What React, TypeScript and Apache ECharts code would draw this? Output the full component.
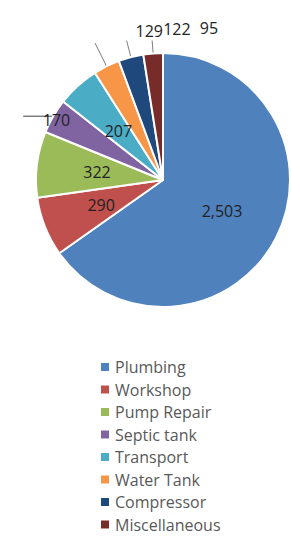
import React, { useEffect, useRef } from "react";
import * as echarts from "echarts";

const categories = [
  "Plumbing",
  "Workshop",
  "Pump Repair",
  "Septic tank",
  "Transport",
  "Water Tank",
  "Compressor",
  "Miscellaneous",
];
const values = [2503, 290, 322, 170, 207, 129, 122, 95];
const colors = [
  "#4F81BD",
  "#C0504D",
  "#9BBB59",
  "#8064A2",
  "#4BACC6",
  "#F79646",
  "#1F497D",
  "#772C2A",
];

// label placement style (not data)
const outsideLabels: Record<string, { length: number; length2: number; shift: [number, number]; line: string }> = {
  "Septic tank": { length: 0, length2: 30, shift: [52, 4], line: "#404040" },
  "Water Tank": { length: 26, length2: 0, shift: [73, -12], line: "#7f7f7f" },
  Compressor: { length: 17, length2: 0, shift: [69, -12], line: "#7f7f7f" },
  Miscellaneous: { length: 13, length2: 0, shift: [71, -12], line: "#7f7f7f" },
};

const FONT = "'Open Sans', sans-serif";

export default function App() {
  const ref = useRef<HTMLDivElement>(null);
  useEffect(() => {
    const chart = echarts.init(ref.current!, undefined, { renderer: "svg" });
    const data = categories.map((name, i) => {
      const o = outsideLabels[name];
      const item: any = {
        name,
        value: values[i],
        itemStyle: { color: colors[i] },
      };
      if (o) {
        item.label = { position: "outside" };
        item.labelLine = {
          show: true,
          length: o.length,
          length2: o.length2,
          lineStyle: { color: o.line, width: 1 },
        };
      } else {
        item.label = { position: "inside" };
        item.labelLine = { show: false };
      }
      return item;
    });
    chart.setOption({
      animation: false,
      legend: {
        orient: "vertical",
        left: 99,
        top: 359,
        height: 220,
        padding: 0,
        icon: "rect",
        itemWidth: 10,
        itemHeight: 10,
        itemGap: 6.5,
        data: categories,
        textStyle: {
          color: "#595959",
          fontFamily: FONT,
          fontSize: 16,
          lineHeight: 16,
        },
        selectedMode: false,
      },
      series: [
        {
          type: "pie",
          center: [163, 180],
          radius: 127,
          startAngle: 90,
          clockwise: true,
          avoidLabelOverlap: false,
          itemStyle: { borderColor: "#ffffff", borderWidth: 2 },
          label: {
            color: "#222222",
            fontFamily: FONT,
            fontSize: 16,
            formatter: (p: any) => Number(p.value).toLocaleString("en-US"),
          },
          labelLayout: (params: any) => {
            const name = categories[params.dataIndex];
            const o = outsideLabels[name];
            if (!o) return {};
            return {
              dx: o.shift[0],
              dy: o.shift[1],
              labelLinePoints: params.labelLinePoints,
            };
          },
          emphasis: { disabled: true },
          data,
        },
      ],
    });
    return () => chart.dispose();
  }, []);
  return (
    <div
      ref={ref}
      style={{ position: "fixed", left: 0, top: 0, width: 291, height: 536, background: "#fff" }}
    />
  );
}
